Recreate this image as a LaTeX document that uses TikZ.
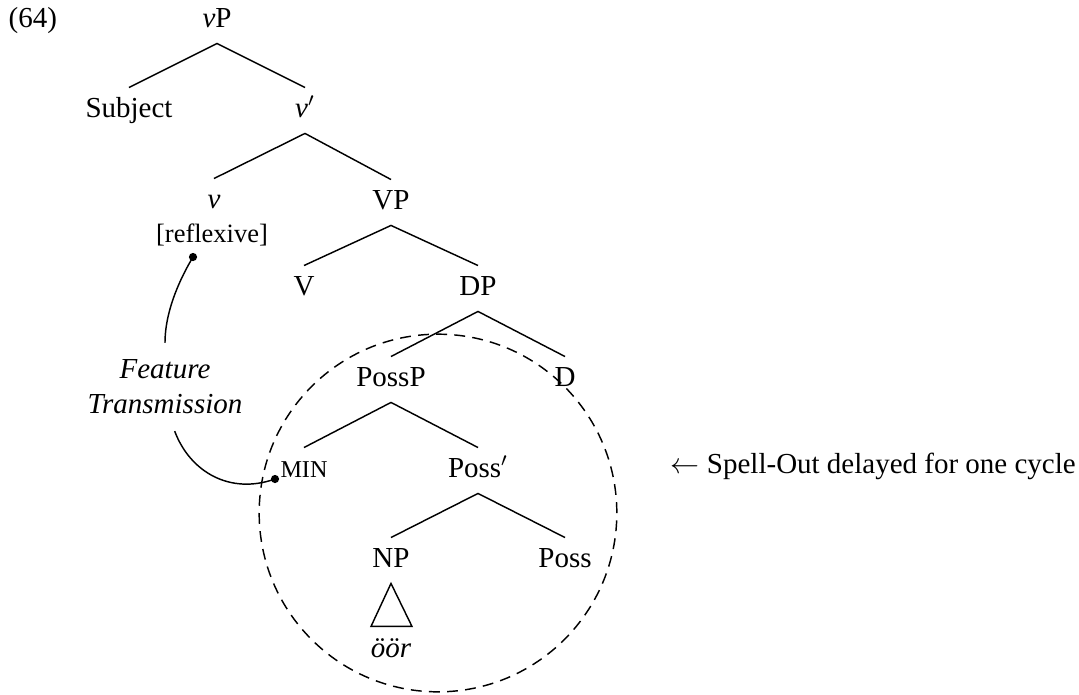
\documentclass[tikz,border=0pt,12pt]{standalone}
\usepackage{fontspec}
\setmainfont{Liberation Serif}

\tikzset{
  cat/.style={anchor=base, inner sep=0pt, outer sep=3.8pt, text height=0.7em, text depth=0.25em},
  dot/.style={circle, fill, inner sep=0pt, minimum size=3.4pt},
}

\begin{document}
\begin{tikzpicture}[x=0.4138pt,y=-0.4138pt,line width=0.6pt]
    \useasboundingbox (0,0) rectangle (1079,694);
    \node[anchor=base west, inner sep=0pt] (ex) at (8,27) {(64)};
    \node[cat] (vp) at (217,27) {\textit{v}P};
    \node[cat] (subj) at (129,117) {Subject};
    \node[cat] (vbar) at (305,117) {\textit{v}$'$};
    \node[cat] (v) at (214,208) {\textit{v}};
    \node[anchor=base, inner sep=0pt, font=\small] (refl) at (212,242) {[reflexive]};
    \node[cat] (vpp) at (391,209) {VP};
    \node[cat] (verb) at (304,295) {V};
    \node[cat] (dp) at (478,295) {DP};
    \node[cat] (possp) at (391,386) {PossP};
    \node[cat] (d) at (565,386) {D};
    \node[cat, font=\footnotesize] (min) at (304,477) {MIN};
    \node[cat] (possbar) at (478,477) {Poss$'$};
    \node[cat] (np) at (391,567) {NP};
    \node[cat] (poss) at (565,567) {Poss};
    \node[anchor=base, inner sep=0pt] (oor) at (391,657) {\textit{öör}};
    \node[align=center, font=\itshape, inner sep=0pt, outer sep=7pt] (ft) at (165,387) {Feature\\Transmission};
    \node[anchor=base west, inner sep=0pt] (spell) at (670,473) {$\leftarrow$ Spell-Out delayed for one cycle};
    \coordinate (refdot) at (193,257);
    \coordinate (mindot) at (275,479);

    % tree
    \draw (subj.north) -- (vp.south) -- (vbar.north)
    (v.north) -- (vbar.south) -- (vpp.north)
    (verb.north) -- (vpp.south) -- (dp.north)
    (possp.north) -- (dp.south) -- (d.north)
    (min.north) -- (possp.south) -- (possbar.north)
    (np.north) -- (possbar.south) -- (poss.north);
    \draw (np.south) -- ++(-20,43) -- ++(41,0) -- cycle;

    % feature transmission
    \draw (refdot) .. controls (181,277) and (165,310) .. (ft.north);
    \draw ([xshift=4pt]ft.south) .. controls (190,472) and (230,495) .. (mindot);
    \node[dot] at (refdot) {};
    \node[dot] at (mindot) {};

    % spell-out domain
    \draw[dash pattern=on 4.5pt off 3pt] (438,513) circle [radius=74pt];
  \end{tikzpicture}
\end{document}
